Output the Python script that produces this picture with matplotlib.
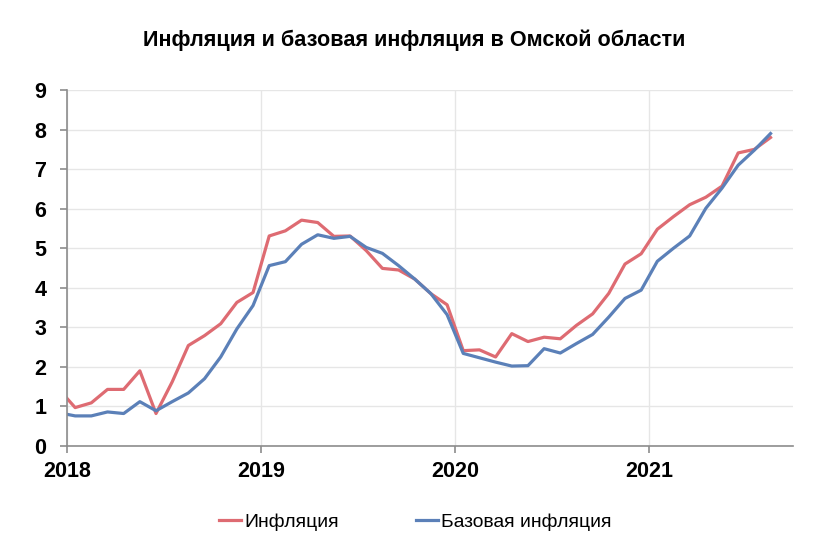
import matplotlib
matplotlib.use('Agg')
import matplotlib.pyplot as plt

# Месяцы: декабрь 2017 - август 2021 (значения на середину месяца)
years = [2017] + [2018] * 12 + [2019] * 12 + [2020] * 12 + [2021] * 8
months = [12] + list(range(1, 13)) * 3 + list(range(1, 9))

# Инфляция, % г/г
inflation = [1.43, 0.97, 1.09, 1.43, 1.43, 1.90, 0.82, 1.62, 2.54, 2.79, 3.09, 3.63, 3.88,
             5.31, 5.44, 5.71, 5.65, 5.30, 5.31, 4.94, 4.49, 4.45, 4.22, 3.85, 3.57,
             2.41, 2.43, 2.25, 2.84, 2.64, 2.75, 2.71, 3.05, 3.34, 3.86, 4.60, 4.86,
             5.48, 5.80, 6.10, 6.29, 6.57, 7.41, 7.50, 7.80]

# Базовая инфляция, % г/г
core = [0.84, 0.76, 0.76, 0.86, 0.82, 1.12, 0.89, 1.12, 1.34, 1.70, 2.25, 2.96, 3.55,
        4.56, 4.66, 5.10, 5.34, 5.25, 5.30, 5.02, 4.87, 4.56, 4.22, 3.85, 3.32,
        2.34, 2.23, 2.12, 2.02, 2.03, 2.46, 2.35, 2.59, 2.82, 3.26, 3.73, 3.94,
        4.67, 5.00, 5.31, 6.01, 6.52, 7.10, 7.48, 7.90]

year_ticks = [2018, 2019, 2020, 2021]
y_ticks = list(range(0, 10))

plt.rcParams['font.family'] = ['Liberation Sans', 'DejaVu Sans']

x = [y + (m - 0.5) / 12 for y, m in zip(years, months)]

fig = plt.figure(figsize=(8.28, 5.36), dpi=100)
ax = fig.add_axes([0.081, 0.168, 0.877, 0.664])

ax.plot(x, inflation, color='#DE6B72', lw=2.3, label='Инфляция')
ax.plot(x, core, color='#5B80B8', lw=2.3, label='Базовая инфляция')

ax.set_xlim(2018, 2021.742)
ax.set_ylim(0, 9)
ax.set_xticks(year_ticks)
ax.set_xticklabels([str(y) for y in year_ticks])
ax.set_yticks(y_ticks)

ax.grid(True, color='#E6E6E6', lw=1)
ax.set_axisbelow(True)
for s in ['top', 'right']:
    ax.spines[s].set_visible(False)
for s in ['left', 'bottom']:
    ax.spines[s].set_color('#8C8C8C')
    ax.spines[s].set_linewidth(1.2)
ax.tick_params(axis='both', length=5, width=1.2, color='#8C8C8C', labelsize=15.5)
ax.tick_params(axis='y', pad=10)
ax.tick_params(axis='x', pad=6)
for lab in ax.get_xticklabels() + ax.get_yticklabels():
    lab.set_fontweight('bold')

fig.text(0.5, 0.925, 'Инфляция и базовая инфляция в Омской области',
         ha='center', va='center', fontsize=15.6, fontweight='bold')

fig.legend(loc='center', bbox_to_anchor=(0.502, 0.026), ncol=2, frameon=False,
           fontsize=13.9, handlelength=1.1, handletextpad=0.2, columnspacing=4.0)

fig.savefig('out.png', dpi=100)
